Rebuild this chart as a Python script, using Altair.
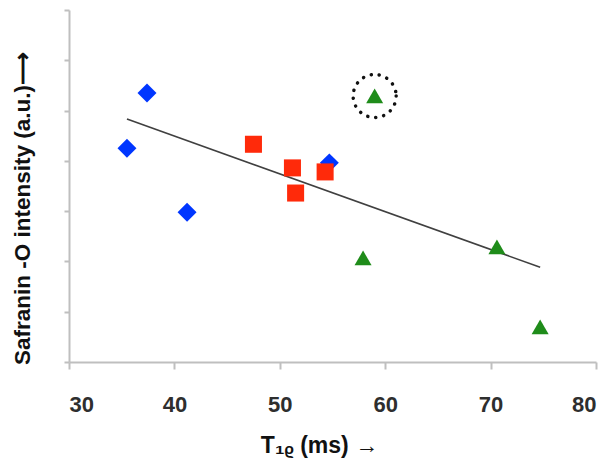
import altair as alt
import pandas as pd

# T1rho (ms) and Safranin-O intensity (a.u.) per group
blue_x = [37.4, 35.5, 41.2, 54.7]
blue_y = [5.35, 4.25, 2.98, 3.96]
red_x = [47.5, 51.2, 51.5, 54.3]
red_y = [4.33, 3.86, 3.36, 3.78]
green_x = [59.0, 57.9, 70.6, 74.7]
green_y = [5.29, 2.07, 2.29, 0.70]
circled_x = [59.0]
circled_y = [5.29]
x_ticks = [30, 40, 50, 60, 70, 80]
y_ticks = [0, 1, 2, 3, 4, 5, 6, 7]

rows = []
for g, xs, ys in [("blue", blue_x, blue_y), ("red", red_x, red_y), ("green", green_x, green_y)]:
    for a, b in zip(xs, ys):
        rows.append({"group": g, "t1rho": a, "saf": b})
df = pd.DataFrame(rows)
circ = pd.DataFrame({"t1rho": circled_x, "saf": circled_y})

xs = alt.Scale(domain=[30, 80], nice=False, zero=False)
ys = alt.Scale(domain=[0, 7], nice=False, zero=False)

xaxis = alt.Axis(values=x_ticks, title="T₁ᵨ (ms) →", grid=False,
                 labelFont="Liberation Sans", labelFontWeight="bold", labelFontSize=22,
                 labelColor="#2e2e2e", labelPadding=25,
                 titleFont="Liberation Sans", titleFontWeight="bold", titleFontSize=23,
                 titleColor="#111111", titlePadding=19, titleX=250,
                 domainColor="#bfbfbf", domainWidth=2, tickColor="#bfbfbf",
                 tickSize=7, tickWidth=2)
yaxis = alt.Axis(values=y_ticks, labels=False, title="Safranin -O intensity (a.u.)⟶",
                 grid=False, titleFont="Liberation Sans", titleFontWeight="bold",
                 titleFontSize=22.5, titleColor="#111111", titlePadding=29, titleY=198,
                 domainColor="#bfbfbf", domainWidth=2, tickColor="#bfbfbf",
                 tickSize=5, tickWidth=2)

base = alt.Chart(df)

line = base.transform_regression("t1rho", "saf").mark_line(
    color="#404040", strokeWidth=1.6
).encode(x=alt.X("t1rho:Q", scale=xs, axis=xaxis), y=alt.Y("saf:Q", scale=ys, axis=yaxis))

blue = base.transform_filter(alt.datum.group == "blue").mark_point(
    shape="diamond", filled=True, color="#0036FF", size=360, opacity=1
).encode(x=alt.X("t1rho:Q", scale=xs), y=alt.Y("saf:Q", scale=ys))

red = base.transform_filter(alt.datum.group == "red").mark_point(
    shape="square", filled=True, color="#FF2A0A", size=290, opacity=1
).encode(x=alt.X("t1rho:Q", scale=xs), y=alt.Y("saf:Q", scale=ys))

green = base.transform_filter(alt.datum.group == "green").mark_point(
    shape="triangle-up", filled=True, color="#1F8C1A", size=290, opacity=1
).encode(x=alt.X("t1rho:Q", scale=xs), y=alt.Y("saf:Q", scale=ys))

ring = alt.Chart(circ).mark_point(
    shape="circle", filled=False, color="#111111", size=1850, strokeWidth=3.5,
    strokeDash=[0.1, 8], strokeCap="round", opacity=1
).encode(x=alt.X("t1rho:Q", scale=xs), y=alt.Y("saf:Q", scale=ys))

chart = alt.layer(line, blue, red, green, ring).properties(
    width=527, height=352,
    autosize=alt.AutoSizeParams(type="none"),
    padding={"left": 61, "top": 2, "right": 10, "bottom": 100},
).configure_view(stroke=None)

chart.save("out.html", embed_options={"renderer": "svg", "actions": False})
